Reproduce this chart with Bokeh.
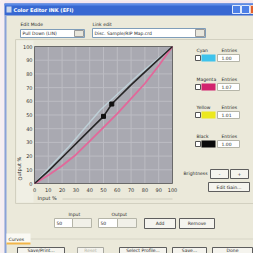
from bokeh.plotting import figure
from bokeh.models import Range1d
from bokeh.core.properties import value
from bokeh.embed import file_html
from bokeh.resources import INLINE

# ---------------- data ----------------
tick_values = [0, 10, 20, 30, 40, 50, 60, 70, 80, 90, 100]
tick_labels = ["0", "10", "20", "30", "40", "50", "60", "70", "80", "90", "100"]

black_in = [0, 10, 22, 35, 50, 56, 70, 85, 100]
black_out = [0, 9, 21, 34, 49, 58, 72, 86, 100]

magenta_in = [0, 10, 20, 30, 40, 50, 60, 70, 80, 90, 100]
magenta_out = [0, 6, 13, 21, 31, 41, 51, 62, 73, 86, 100]

cyan_in = [0, 25, 48, 75, 100]
cyan_out = [0, 27, 54, 79, 100]

point_in = [50, 56]
point_out = [49, 58]

channel_names = ["Cyan", "Magenta", "Yellow", "Black"]
channel_colors = ["#3ec3ec", "#d2236e", "#ece81e", "#0a0a0a"]
channel_entries = ["1.00", "1.07", "1.01", "1.00"]

# ---------------- layout (canvas pixels) ----------------
OFF = 8          # page margin: reference pixel -> canvas pixel
W = H = 253
FONT = "DejaVu Sans"
BG = "#ebe9da"
PX0, PX1 = 34, 172   # chart frame left/right in canvas px
PY0, PY1 = 46, 183   # chart frame top/bottom in canvas px
kx = (PX1 - PX0) / 100.0
ky = (PY1 - PY0) / 100.0

p = figure(width=W, height=H, output_backend="svg", toolbar_location=None,
           x_range=Range1d(0, W), y_range=Range1d(H, 0),
           x_axis_type=None, y_axis_type=None, min_border=0)
p.border_fill_color = BG
p.background_fill_color = BG
p.outline_line_color = None
p.grid.visible = False

# chart scale: 0..100 mapped onto the chart frame
p.extra_x_ranges = {"c": Range1d(-PX0 / kx, (W - PX0) / kx)}
p.extra_y_ranges = {"c": Range1d(-(H - PY1) / ky, PY1 / ky)}
C = dict(x_range_name="c", y_range_name="c")


def box(x0, y0, x1, y1, fill=None, line=None, lw=1):
    p.quad(left=x0 - OFF, right=x1 - OFF, top=y0 - OFF, bottom=y1 - OFF,
           fill_color=fill, fill_alpha=1 if fill else 0,
           line_color=line, line_width=lw, line_alpha=1 if line else 0)


def txt(x, y, s, size=5, color="#2a2a2a", align="left", bold=False, angle=0):
    p.text(x=[x - OFF], y=[y - OFF], text=[s], text_font=value(FONT),
           text_font_size=f"{size}px", text_color=color, text_align=align,
           text_baseline="middle", angle=angle,
           text_font_style="bold" if bold else "normal")


def button(x0, y0, x1, y1, s, disabled=False, ty=None):
    box(x0, y0, x1, y1, fill="#f5f4ee", line="#a8a8a0" if disabled else "#5e5e5e")
    txt((x0 + x1) / 2, (y0 + y1) / 2 if ty is None else ty, s, size=4.5,
        color="#b4b4aa" if disabled else "#2a2a2a", align="center")


# outside page background
box(0, 0, 270, 11, fill="#f4e6ef")
box(0, 0, 12, 270, fill="#f6eef3")
# title bar
box(12, 11, 270, 23, fill="#3868d2")
box(12, 11, 270, 13, fill="#5c8ae6")
box(14, 14, 19, 20, fill="#c9d6ea")
txt(21, 17, "Color Editor INK (EFI)", size=5, color="#ffffff", bold=True)
box(240, 13, 248, 21, fill="#4d7fe6", line="#dfe8fa")
box(249, 13, 257, 21, fill="#4d7fe6", line="#dfe8fa")
box(258, 13, 268, 21, fill="#e0602c", line="#f4d0c0")
# window left frame
box(12, 23, 14, 270, fill="#8aa2d8")

# top controls
txt(28, 32, "Edit Mode", size=4.5)
box(28, 37, 92, 45, fill="#ffffff", line="#7f9db9")
txt(30, 41, "Pull Down (LIN)", size=4.5)
box(82, 38, 91, 44, fill="#e8e6dc", line="#9a9a9a")
txt(100, 32, "Link edit", size=4.5)
box(100, 36, 213, 45, fill="#ffffff", line="#7f9db9")
txt(102, 40.5, "Disc. Sample/RIP Map.crd", size=4.5)
box(203, 37, 212, 44, fill="#e8e6dc", line="#9a9a9a")

# chart group box
box(23, 47, 263, 211, line="#d2d0c0")
box(24, 48, 41, 210, fill="#f0efe4")
txt(45, 205, "Input %", size=5)
box(70, 206, 180, 207, fill="#cfcdbd")
txt(27, 188, "Output %", size=5, angle=1.5708)

# ---------------- chart ----------------
p.quad(left=[tick_values[0]], right=[tick_values[-1]], bottom=[tick_values[0]],
       top=[tick_values[-1]], fill_color="#a9a9b1", line_color=None, **C)
inner = tick_values[1:-1]
p.segment(x0=inner, x1=inner, y0=[tick_values[0]] * len(inner),
          y1=[tick_values[-1]] * len(inner), line_color="#bcbcc3", line_width=1, **C)
p.segment(x0=[tick_values[0]] * len(inner), x1=[tick_values[-1]] * len(inner),
          y0=inner, y1=inner, line_color="#bcbcc3", line_width=1, **C)
p.quad(left=[tick_values[0]], right=[tick_values[-1]], bottom=[tick_values[0]],
       top=[tick_values[-1]], fill_alpha=0, line_color="#6a6a6a", line_width=1, **C)

p.text(x=tick_values, y=[tick_values[0]] * len(tick_values), text=tick_labels,
       text_font=value(FONT), text_font_size="5px", text_color="#333333",
       text_align="center", text_baseline="top", y_offset=4, **C)
p.text(x=[tick_values[0]] * len(tick_values), y=tick_values, text=tick_labels,
       text_font=value(FONT), text_font_size="5px", text_color="#333333",
       text_align="right", text_baseline="middle", x_offset=-2, **C)

p.line(cyan_in, cyan_out, line_color="#c4dde4", line_width=1.5, line_alpha=0.7, **C)
p.line(magenta_in, magenta_out, line_color="#e2689a", line_width=1.8, **C)
p.line(black_in, black_out, line_color="#262626", line_width=1.6, **C)
p.scatter(point_in, point_out, marker="square", size=4, color="#111111", **C)

# channel panel
label_y = [58, 87, 115, 144]
for name, col, ent, ly in zip(channel_names, channel_colors, channel_entries, label_y):
    txt(204, ly, name, size=4.5)
    txt(229, ly, "Entries", size=4.5)
    box(203, ly + 5, 208, ly + 10, fill="#ffffff", line="#555555")
    box(209, ly + 4, 223, ly + 11, fill=col)
    box(225, ly + 4, 247, ly + 11, fill="#ffffff", line="#b5b5a8")
    txt(229, ly + 7.5, ent, size=4.5)

txt(191, 181, "Brightness", size=4.5)
button(218, 177, 236, 186, "-")
button(238, 177, 256, 186, "+")
button(216, 190, 257, 199, "Edit Gain...")

# input / output row
txt(76, 222, "Input", size=4.5)
txt(119, 222, "Output", size=4.5)
box(62, 226, 80, 235, fill="#ffffff", line="#b5b5a8")
txt(64, 230.5, "50", size=4.5)
box(80, 226, 99, 235, fill="#f1f0e8", line="#b5b5a8")
box(106, 226, 125, 235, fill="#ffffff", line="#b5b5a8")
txt(108, 230.5, "50", size=4.5)
box(125, 226, 144, 235, fill="#f1f0e8", line="#b5b5a8")
button(152, 226, 183, 236, "Add")
button(187, 226, 222, 236, "Remove")

# curves tab
box(38, 246, 266, 247, fill="#d8d6c6")
box(14, 241, 38, 251, fill="#faf9f3")
box(14, 250, 38, 252, fill="#f1b54a")
txt(16, 246.5, "Curves", size=4.5)

# bottom buttons (text kept inside the visible canvas)
button(25, 255, 72, 265, "Save/Print...", ty=257.5)
button(85, 255, 111, 265, "Reset", disabled=True, ty=257.5)
button(127, 255, 174, 265, "Select Profile...", ty=257.5)
button(180, 255, 214, 265, "Save...", ty=257.5)
button(220, 255, 260, 265, "Done", ty=257.5)

open("out.html", "w").write(file_html(p, INLINE))
